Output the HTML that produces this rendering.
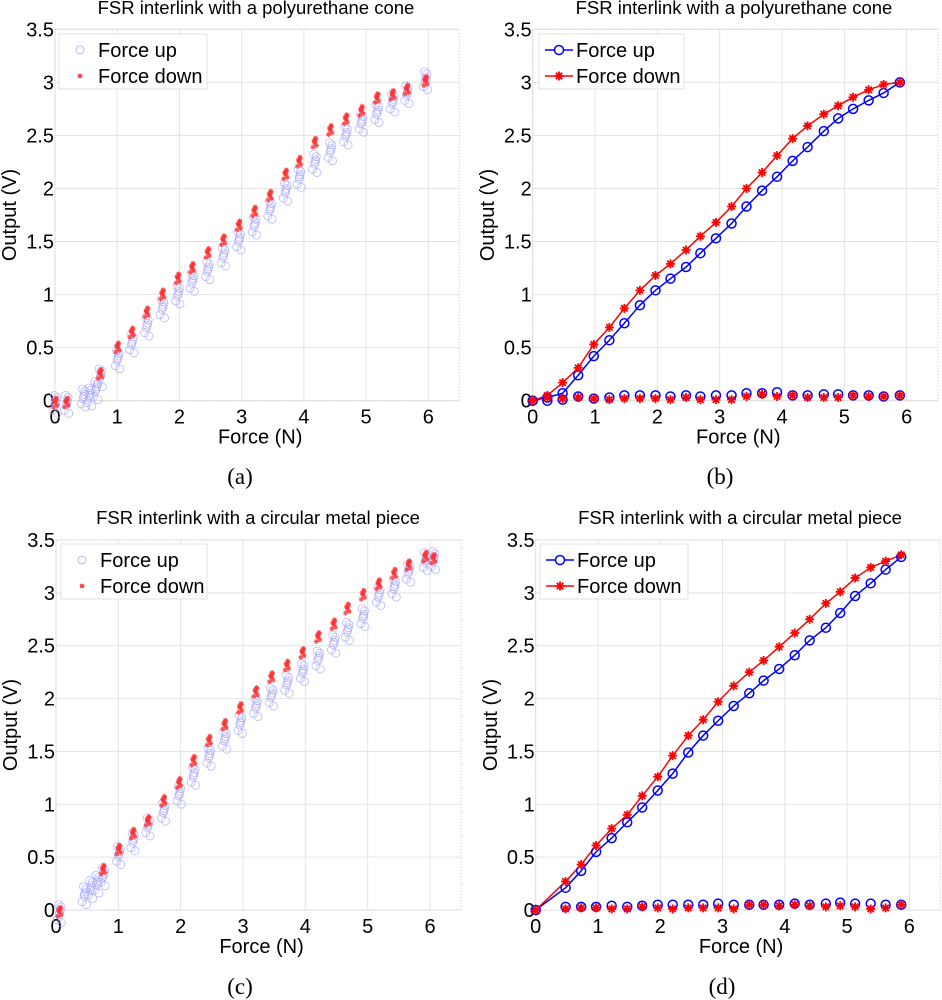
<!DOCTYPE html>
<html><head><meta charset="utf-8">
<style>
html,body{margin:0;padding:0;background:#fff;}
svg{display:block;font-family:"Liberation Sans",Arial,sans-serif;}
</style></head>
<body>
<svg id="fig" width="942" height="1000" viewBox="0 0 942 1000"></svg>
<script>
// ---------- data ----------
const xTicks = [0,1,2,3,4,5,6];
const yTicks = [0,0.5,1,1.5,2,2.5,3,3.5];
const yTickLabels = ["0","0.5","1","1.5","2","2.5","3","3.5"];

// (a) raw scatter clusters - polyurethane cone
const aX    = [0.0,0.18,0.45,0.55,0.65,0.72,1.0,1.23,1.47,1.72,1.97,2.2,2.45,2.7,2.95,3.2,3.45,3.7,3.92,4.17,4.42,4.67,4.92,5.17,5.42,5.65,5.95];
const aUp   = [0,0,0.06,0.07,0.13,0.25,0.42,0.57,0.73,0.90,1.03,1.15,1.26,1.39,1.54,1.68,1.83,2.0,2.13,2.27,2.38,2.53,2.65,2.74,2.84,2.92,3.05];
const aDown = [0,0,null,null,null,0.27,0.52,0.66,0.85,1.02,1.17,1.27,1.41,1.53,1.67,1.80,1.95,2.15,2.27,2.45,2.57,2.67,2.75,2.87,2.90,2.95,3.03];

// (c) raw scatter clusters - circular metal piece
const cX    = [0.05,0.45,0.55,0.65,0.75,1.0,1.23,1.47,1.72,1.97,2.2,2.45,2.7,2.95,3.2,3.45,3.7,3.95,4.2,4.45,4.67,4.92,5.17,5.42,5.65,5.92,6.05];
const cUp   = [0,0.17,0.23,0.28,0.35,0.55,0.68,0.82,0.96,1.12,1.30,1.48,1.64,1.79,1.95,2.05,2.17,2.28,2.40,2.55,2.67,2.80,3.00,3.08,3.22,3.33,3.34];
const cDown = [0,null,null,null,0.40,0.59,0.74,0.86,1.05,1.22,1.43,1.62,1.77,1.93,2.08,2.22,2.33,2.45,2.60,2.72,2.87,3.00,3.10,3.20,3.28,3.36,3.34];

// scatter spread within each cluster (N, V)
const spreadX = [-0.03,0,0.02,0.03,-0.01,0.01,0.04];
const spreadY = [-0.09,-0.04,0,0.03,0.05,-0.02,-0.12];

// (b) averaged - polyurethane cone
const bX     = [0,0.235,0.48,0.73,0.98,1.23,1.47,1.72,1.97,2.21,2.46,2.69,2.94,3.19,3.43,3.68,3.92,4.17,4.41,4.67,4.90,5.14,5.39,5.63,5.89];
const bUp    = [0,0.03,0.07,0.24,0.42,0.57,0.73,0.90,1.04,1.15,1.26,1.39,1.53,1.67,1.83,1.98,2.11,2.26,2.39,2.54,2.66,2.75,2.83,2.90,3.00];
const bDown  = [0,0.05,0.17,0.31,0.53,0.69,0.87,1.04,1.18,1.29,1.42,1.55,1.68,1.83,2.00,2.15,2.31,2.47,2.59,2.70,2.78,2.86,2.93,2.98,3.00];
const bUpRet = [0,0.00,0.01,0.04,0.02,0.03,0.05,0.05,0.05,0.04,0.05,0.04,0.05,0.05,0.07,0.07,0.08,0.05,0.05,0.06,0.06,0.05,0.05,0.04,0.05];
const bDnRet = [0,0.03,0.02,0.03,0.02,0.01,0.02,0.02,0.02,0.01,0.03,0.01,0.01,0.01,0.04,0.06,0.04,0.05,0.03,0.03,0.03,0.05,0.04,0.04,0.05];

// (d) averaged - circular metal piece
const dX     = [0,0.48,0.73,0.97,1.22,1.47,1.71,1.96,2.20,2.45,2.69,2.93,3.18,3.43,3.66,3.91,4.16,4.40,4.66,4.89,5.13,5.38,5.62,5.87];
const dUp    = [0,0.21,0.37,0.55,0.68,0.83,0.97,1.13,1.29,1.49,1.65,1.79,1.93,2.05,2.17,2.28,2.41,2.55,2.67,2.81,2.97,3.09,3.22,3.34];
const dDown  = [0,0.27,0.43,0.61,0.77,0.90,1.08,1.26,1.46,1.65,1.80,1.97,2.12,2.25,2.36,2.49,2.62,2.75,2.90,3.01,3.14,3.24,3.30,3.36];
const dUpRet = [0,0.03,0.03,0.03,0.04,0.03,0.04,0.05,0.05,0.05,0.05,0.06,0.05,0.05,0.05,0.05,0.06,0.05,0.06,0.07,0.06,0.06,0.05,0.05];
const dDnRet = [0,0.01,0.02,0.02,0.01,0.01,0.03,0.02,0.01,0.02,0.02,0.02,0.01,0.05,0.05,0.04,0.05,0.04,0.03,0.04,0.03,0.01,0.02,0.05];

// ---------- drawing ----------
const NS = "http://www.w3.org/2000/svg";
const svg = document.getElementById('fig');
function mk(tag, attrs, parent, text){
  const e = document.createElementNS(NS, tag);
  for (const k in attrs) e.setAttribute(k, attrs[k]);
  if (text !== undefined) e.textContent = text;
  (parent||svg).appendChild(e);
  return e;
}
function starPath(cx, cy, r){
  let d = "";
  for (let i=0;i<4;i++){
    const a = i*Math.PI/4;
    const dx = r*Math.cos(a), dy = r*Math.sin(a);
    d += "M"+(cx-dx)+" "+(cy-dy)+"L"+(cx+dx)+" "+(cy+dy);
  }
  return d;
}

function panel(p){
  const g = mk('g', {});
  
  
  const sx = v => p.x0 + (v)*(p.x6 - p.x0)/6;
  const sy = v => p.y0 - v*(p.y0 - p.y35)/3.5;
  const right = sx(6.5), top = sy(3.5);
  const grid = mk('g', {}, g);
  
  
  xTicks.forEach(t => mk('line', {x1:sx(t),x2:sx(t),y1:top,y2:p.y0,stroke:'#e3e3e3','stroke-width':1}, grid));
  yTicks.forEach(t => mk('line', {x1:p.x0,x2:right,y1:sy(t),y2:sy(t),stroke:'#e3e3e3','stroke-width':1}, grid));
  const box = mk('rect', {x:p.x0,y:top,width:right-p.x0,height:p.y0-top,fill:'none',stroke:'#cfcfcf','stroke-width':1,'stroke-dasharray':'1 2'}, g);
  
  
  xTicks.forEach((t,i) => {
    const e = mk('text', {x:sx(t), y:p.y0+23, 'font-size':20, 'text-anchor':'middle', fill:'#000'}, g, String(t));
    
    
  });
  yTicks.forEach((t,i) => {
    const e = mk('text', {x:p.x0-1, y:sy(t)+7, 'font-size':20, 'text-anchor':'end', fill:'#000'}, g, yTickLabels[i]);
    
    
  });
  const xl = mk('text', {x:(p.x0+right)/2+3, y:p.y0+43, 'font-size':20, 'text-anchor':'middle'}, g, 'Force (N)');
  
  
  const ycy = (top+p.y0)/2;
  const yl = mk('text', {x:p.ylx, y:ycy, 'font-size':20, 'text-anchor':'middle', transform:'rotate(-90 '+p.ylx+' '+ycy+')'}, g, 'Output (V)');
  
  
  const ti = mk('text', {x:p.tx, y:p.ty, 'font-size':18.5, 'text-anchor':'middle'}, g, p.title);
  
  
  const cap = mk('text', {x:p.capx, y:p.capy, 'font-size':23, 'text-anchor':'middle', 'font-family':'"Liberation Serif",serif'}, g, p.cap);
  
  

  const plot = mk('g', {}, g);
  
  

  if (p.type === 'scatter'){
    p.xs.forEach((x,i) => {
      spreadX.forEach((dx,j) => {
        const c = mk('circle', {cx:sx(x+dx), cy:sy(p.up[i]+spreadY[j]), r:4, fill:'none', stroke:'#a8a8ff','stroke-width':0.8,'stroke-opacity':0.8}, plot);
        
        
      });
    });
    p.xs.forEach((x,i) => {
      if (p.down[i] === null) return;
      spreadX.forEach((dx,j) => {
        const s = mk('path', {d:starPath(sx(x+dx*0.8), sy(p.down[i]+spreadY[6-j]*0.5), 2.5), stroke:'#ff3030','stroke-width':1,'stroke-opacity':0.85}, plot);
        
        
      });
    });
  } else {
    const line = (ys) => ys.map((y,i)=> (i?'L':'M')+sx(p.xs[i])+' '+sy(y)).join('');
    const lu = mk('path', {d:line(p.up), fill:'none', stroke:'#0000ff','stroke-width':1.5}, plot);
    
    
    const ld = mk('path', {d:line(p.down), fill:'none', stroke:'#ff0000','stroke-width':1.5}, plot);
    
    
    p.xs.forEach((x,i) => {
      const c = mk('circle', {cx:sx(x), cy:sy(p.up[i]), r:4.5, fill:'none', stroke:'#0000ff','stroke-width':1.5}, plot);
      
      
      const c2 = mk('circle', {cx:sx(x), cy:sy(p.upRet[i]), r:4.5, fill:'none', stroke:'#0000ff','stroke-width':1.5}, plot);
      
      
    });
    p.xs.forEach((x,i) => {
      const s = mk('path', {d:starPath(sx(x), sy(p.down[i]), 4.5), stroke:'#ff0000','stroke-width':1.8}, plot);
      
      
      const s2 = mk('path', {d:starPath(sx(x), sy(p.dnRet[i]), 4.5), stroke:'#ff0000','stroke-width':1.8}, plot);
      
      
    });
  }
  const lg = mk('g', {}, g);
  
  
  const L = p.leg;
  mk('rect', {x:L.x, y:L.y, width:L.w, height:55, fill:'#fff', stroke:'#e0e0e0','stroke-width':1}, lg);
  const r1 = L.y+16, r2 = L.y+42;
  if (p.type === 'scatter'){
    mk('circle', {cx:L.x+21, cy:r1, r:4, fill:'none', stroke:'#a8a8ff','stroke-width':0.8}, lg);
    mk('path', {d:starPath(L.x+21, r2, 2.5), stroke:'#ff3030','stroke-width':1}, lg);
  } else {
    mk('line', {x1:L.x+6,x2:L.x+34,y1:r1,y2:r1,stroke:'#0000ff','stroke-width':1.5}, lg);
    mk('circle', {cx:L.x+20, cy:r1, r:4.5, fill:'#fff', stroke:'#0000ff','stroke-width':1.5}, lg);
    mk('line', {x1:L.x+6,x2:L.x+34,y1:r2,y2:r2,stroke:'#ff0000','stroke-width':1.5}, lg);
    mk('path', {d:starPath(L.x+20, r2, 4.5), stroke:'#ff0000','stroke-width':1.8}, lg);
  }
  const e1 = mk('text', {x:L.x+L.tx, y:r1+7, 'font-size':20}, lg, 'Force up');
  
  
  const e2 = mk('text', {x:L.x+L.tx, y:r2+7, 'font-size':20}, lg, 'Force down');
  
  
}

panel({name:'panel-a', type:'scatter', xs:aX, up:aUp, down:aDown,
  x0:55, x6:428.3, y0:400.7, y35:29.3, ylx:16, tx:256, ty:14,
  title:'FSR interlink with a polyurethane cone', cap:'(a)', capx:240, capy:484,
  leg:{x:59, y:34, w:148, tx:39}});
panel({name:'panel-b', type:'line', xs:bX, up:bUp, down:bDown, upRet:bUpRet, dnRet:bDnRet,
  x0:532.7, x6:906.7, y0:400.7, y35:29.3, ylx:494, tx:734, ty:14,
  title:'FSR interlink with a polyurethane cone', cap:'(b)', capx:720, capy:484,
  leg:{x:539, y:34, w:145, tx:37}});
panel({name:'panel-c', type:'scatter', xs:cX, up:cUp, down:cDown,
  x0:56, x6:430, y0:910, y35:540, ylx:17, tx:258, ty:524,
  title:'FSR interlink with a circular metal piece', cap:'(c)', capx:240, capy:994,
  leg:{x:61, y:544, w:146, tx:39}});
panel({name:'panel-d', type:'line', xs:dX, up:dUp, down:dDown, upRet:dUpRet, dnRet:dDnRet,
  x0:535.7, x6:909.3, y0:910, y35:540, ylx:497, tx:740, ty:524,
  title:'FSR interlink with a circular metal piece', cap:'(d)', capx:722, capy:994,
  leg:{x:540, y:544, w:148, tx:37}});
</script>
</body></html>
